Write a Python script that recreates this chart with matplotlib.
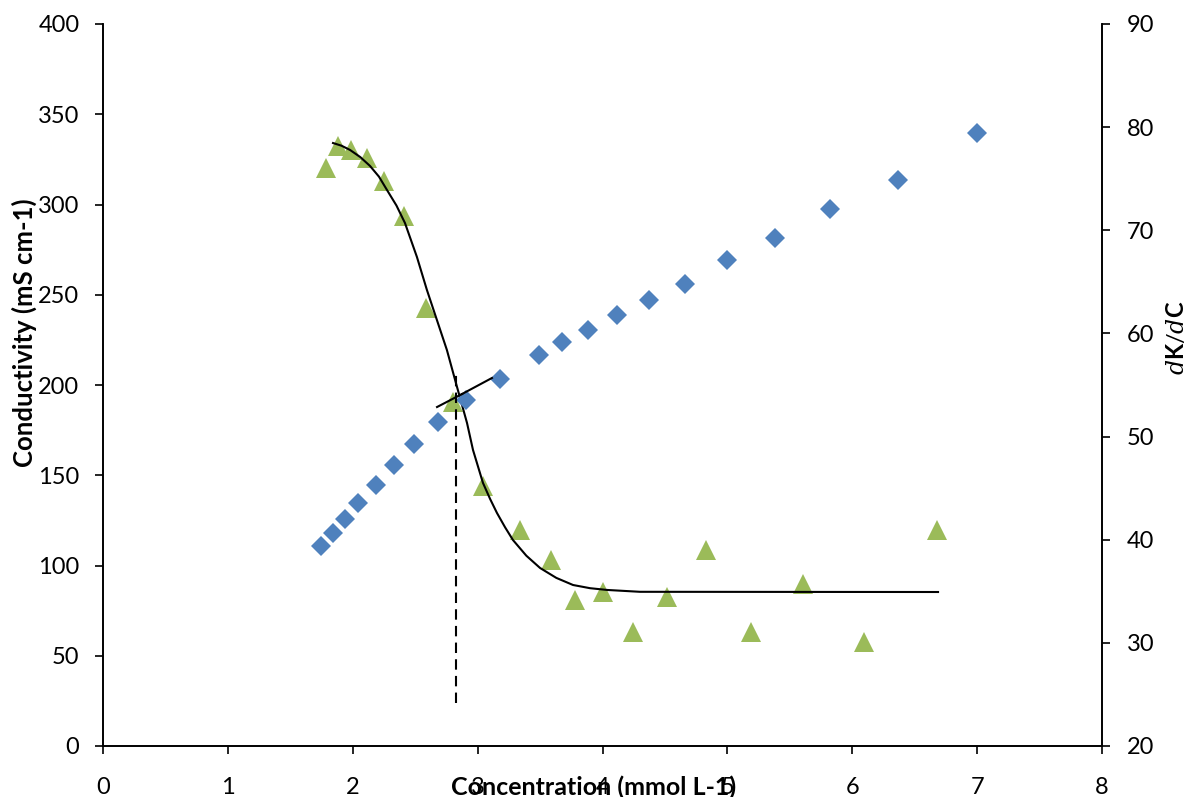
import matplotlib
matplotlib.use("Agg")
import matplotlib.pyplot as plt

plt.rcParams['font.family'] = ['Lato', 'DejaVu Sans']
plt.rcParams['mathtext.fontset'] = 'custom'
plt.rcParams['mathtext.it'] = 'DejaVu Serif:italic'
plt.rcParams['mathtext.bf'] = 'Lato:bold'
plt.rcParams['mathtext.rm'] = 'Lato'

# Conductivity data (left axis)
conc_k = [1.745, 1.841, 1.938, 2.042, 2.186, 2.330, 2.490, 2.682, 2.906, 3.179,
          3.491, 3.675, 3.883, 4.115, 4.371, 4.660, 4.996, 5.380, 5.821, 6.365, 6.998]
kappa = [110.8, 118.0, 125.8, 134.6, 144.6, 155.7, 167.3, 179.5, 191.7, 203.3,
         216.6, 223.8, 230.5, 238.8, 247.1, 256.0, 269.3, 281.4, 297.5, 313.6, 339.6]

# dK/dC data (right axis)
conc_d = [1.785, 1.882, 1.986, 2.114, 2.250, 2.410, 2.586, 2.802, 3.042, 3.339,
          3.587, 3.779, 4.003, 4.243, 4.516, 4.828, 5.188, 5.604, 6.093, 6.677]
dkdc = [76.0, 78.2, 77.8, 77.0, 74.8, 71.4, 62.5, 53.4, 45.2, 40.9,
        38.0, 34.2, 34.9, 31.1, 34.4, 39.0, 31.1, 35.7, 30.1, 40.9]

# fitted curve (right axis)
fit_x = [1.842, 1.910, 1.978, 2.060, 2.138, 2.210, 2.274, 2.350, 2.418, 2.514,
         2.594, 2.674, 2.754, 2.835, 2.915, 2.963, 3.043, 3.100, 3.155, 3.220,
         3.283, 3.390, 3.500, 3.630, 3.764, 3.900, 4.036, 4.300, 6.687]
fit_y = [78.46, 78.20, 77.79, 77.10, 76.24, 75.20, 73.91, 72.40, 70.71, 67.41,
         64.21, 61.30, 58.39, 54.81, 51.32, 48.70, 45.50, 43.95, 42.59, 41.20,
         39.97, 38.45, 37.26, 36.30, 35.61, 35.30, 35.13, 34.95, 34.93]

# linear fits meeting at the CMC (left axis)
pre_x = [2.675, 2.875]
pre_y = [187.8, 195.0]
post_x = [2.875, 3.115]
post_y = [195.0, 203.9]

# CMC marker
cmc_x = [2.827, 2.827]
cmc_y = [23.8, 205.5]

x_ticks = [0, 1, 2, 3, 4, 5, 6, 7, 8]
left_ticks = [0, 50, 100, 150, 200, 250, 300, 350, 400]
right_ticks = [20, 30, 40, 50, 60, 70, 80, 90]

fig = plt.figure(figsize=(11.88, 7.97), dpi=100)
ax1 = fig.add_axes([103/1188, 1-746/797, 999/1188, 722/797])
ax2 = ax1.twinx()
ax1.set_zorder(ax2.get_zorder() + 1)
ax1.patch.set_visible(False)

blue = '#4F81BD'
green = '#9BBB59'

ax2.plot(conc_d, dkdc, linestyle='none', marker='^', markersize=15,
         color=green, markeredgewidth=0, zorder=2)
ax2.plot(fit_x, fit_y, color='black', linewidth=1.5, zorder=3,
         solid_joinstyle='round')

ax1.plot(conc_k, kappa, linestyle='none', marker='D', markersize=9.7,
         color=blue, markeredgewidth=0, zorder=2)
ax1.plot(pre_x, pre_y, color='black', linewidth=1.5, zorder=3)
ax1.plot(post_x, post_y, color='black', linewidth=1.5, zorder=3)
ax1.plot(cmc_x, cmc_y, color='black', linewidth=1.5, linestyle=(0, (5, 3)), zorder=4)

ax1.set_xlim(0, 8)
ax1.set_ylim(0, 400)
ax2.set_ylim(20, 90)
ax1.set_xticks(x_ticks)
ax1.set_yticks(left_ticks)
ax2.set_yticks(right_ticks)

for ax in (ax1, ax2):
    ax.spines['top'].set_visible(False)
    for s in ('left', 'right', 'bottom'):
        ax.spines[s].set_linewidth(1.2)
        ax.spines[s].set_color('black')

ax1.tick_params(axis='x', direction='out', length=6, width=1.2, pad=16, labelsize=17)
ax1.tick_params(axis='y', direction='out', length=6, width=1.2, pad=11, labelsize=17)
ax2.tick_params(axis='y', direction='out', length=6, width=1.2, pad=12, labelsize=17)

ax1.text(0.4915, -0.0568, 'Concentration (mmol L-1)', transform=ax1.transAxes,
         ha='center', va='center', fontsize=18, fontweight='bold', zorder=10)
ax1.text(-0.079, 0.573, 'Conductivity (mS cm-1)', transform=ax1.transAxes,
         ha='center', va='center', rotation=90, fontsize=18.5, fontweight='bold')
ax1.text(1.075, 0.566, r'$\mathit{d}\mathbf{K}/\mathit{d}\mathbf{C}$', transform=ax1.transAxes,
         ha='center', va='center', rotation=90, fontsize=17)

fig.savefig('out.png', dpi=100)
